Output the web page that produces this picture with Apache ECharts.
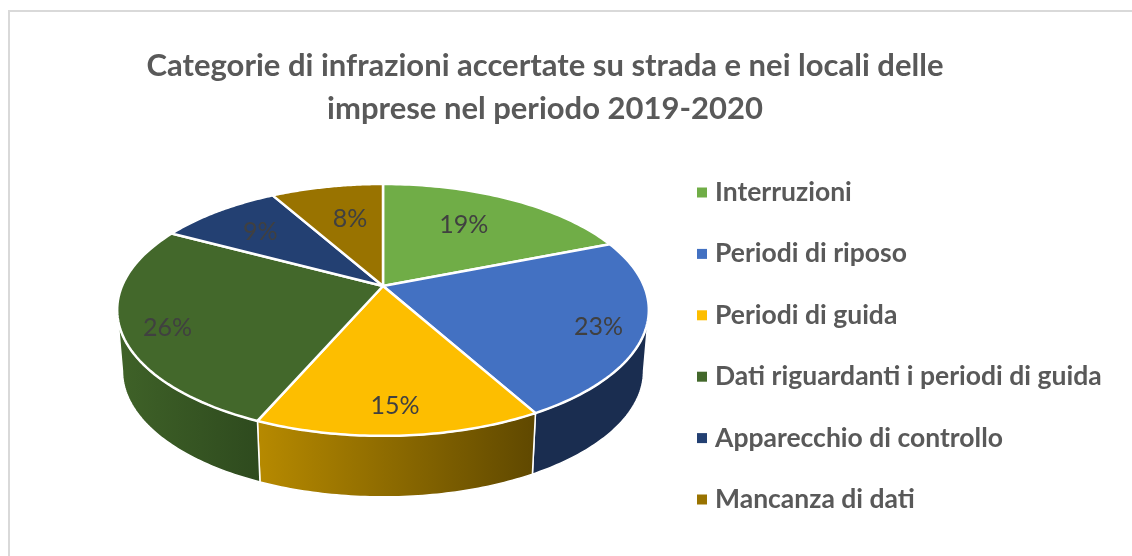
<!DOCTYPE html>
<html>
<head>
<meta charset="utf-8">
<script src="https://cdn.jsdelivr.net/npm/echarts@6/dist/echarts.min.js"></script>
<style>
html, body { margin: 0; padding: 0; background: #fff; }
#main { width: 1132px; height: 556px; }
</style>
</head>
<body>
<div id="main"></div>
<script>
const titleText = 'Categorie di infrazioni accertate su strada e nei locali delle\nimprese nel periodo 2019-2020'
const categories = ['Interruzioni', 'Periodi di riposo', 'Periodi di guida', 'Dati riguardanti i periodi di guida', 'Apparecchio di controllo', 'Mancanza di dati']
const values = [19.0, 22.9, 14.6, 26.3, 9.0, 8.2]

const colors = ['#70ad47', '#4371c2', '#fdbe00', '#43682b', '#234072', '#997300']
const wallStops = [
    ['#43682b', '#43682b'],
    ['#1a2d50', '#1a2d50'],
    ['#b78a00', '#5f4800'],
    ['#3f6228', '#2e4a1e'],
    ['#1a2d50', '#1a2d50'],
    ['#7a5c00', '#7a5c00']
]
// how far out each percent label sits, 1 = on the rim, plus a small hand nudge
const labelReach = [0.62, 0.83, 0.83, 0.84, 0.72, 0.6]
const labelNudge = [[-2, -4], [0, 5], [-1, 0], [3, 6], [0, 2], [3, -4]]

const font = 'Lato'
const total = values.reduce((a, b) => a + b, 0)

// the tilted pie is a circle seen in perspective
const pie = { cx: 383, cy: 286, b: 261, a: 121.4, k: -0.19, depth: 61, shrink: 0.98 }

// the wall only shows between the two widest points of the rim
const wallFrom = Math.acos(pie.k)
const wallTo = Math.PI * 2 - wallFrom

function project(r, angle) {
    const u = r * Math.sin(angle)
    const v = -r * Math.cos(angle)
    const d = 1 + pie.k * v
    return [pie.cx + pie.b * u / d, pie.cy + pie.a * v / d]
}

function lower(p) {
    return [pie.cx + (p[0] - pie.cx) * pie.shrink, p[1] + pie.depth]
}

function arc(from, to) {
    const pts = []
    const steps = 60
    for (let s = 0; s <= steps; s++) {
        pts.push(project(1, from + (to - from) * s / steps))
    }
    return pts
}

function renderSlice(params, api) {
    const i = params.seriesIndex
    const before = values.slice(0, i).reduce((a, b) => a + b, 0)
    const start = before / total * Math.PI * 2
    const end = (before + api.value(0)) / total * Math.PI * 2

    const rim = arc(start, end)
    const pos = project(labelReach[i], (start + end) / 2)
    const children = []

    const wStart = Math.max(start, wallFrom)
    const wEnd = Math.min(end, wallTo)
    if (wEnd > wStart) {
        const front = arc(wStart, wEnd)
        children.push({
            type: 'polygon',
            z2: 1,
            shape: { points: front.concat(front.map(lower).reverse()) },
            style: {
                fill: new echarts.graphic.LinearGradient(0, 0, 1, 0, [
                    { offset: 0, color: wallStops[i][0] },
                    { offset: 1, color: wallStops[i][1] }
                ]),
                stroke: '#fff',
                lineWidth: 1.5
            }
        })
    }
    children.push({
        type: 'polygon',
        z2: 10,
        shape: { points: [[pie.cx, pie.cy]].concat(rim) },
        style: { fill: colors[i], stroke: '#fff', lineWidth: 2.5, lineJoin: 'round' }
    })
    children.push({
        type: 'text',
        z2: 20,
        x: pos[0] + labelNudge[i][0],
        y: pos[1] + labelNudge[i][1],
        style: {
            text: Math.round(api.value(0) / total * 100) + '%',
            fill: '#404040',
            font: '25px ' + font,
            textAlign: 'center',
            textVerticalAlign: 'middle'
        }
    })
    return { type: 'group', children: children }
}

const chart = echarts.init(document.getElementById('main'))
chart.setOption({
    animation: false,
    backgroundColor: '#fff',
    title: {
        text: titleText,
        left: 540,
        top: 39,
        textAlign: 'center',
        textStyle: { fontFamily: font, fontSize: 31, fontWeight: 700, color: '#595959', lineHeight: 43 }
    },
    legend: {
        orient: 'vertical',
        left: 692,
        top: 174,
        itemWidth: 10,
        itemHeight: 10,
        itemGap: 34.4,
        icon: 'rect',
        data: categories,
        textStyle: { fontFamily: font, fontSize: 26.5, fontWeight: 700, color: '#595959', lineHeight: 27, padding: [0, 0, 0, 3] }
    },
    graphic: [{
        type: 'polyline',
        silent: true,
        z: -1,
        shape: { points: [[9, 600], [9, 11], [1140, 11]] },
        style: { fill: 'none', stroke: '#d9d9d9', lineWidth: 2 }
    }],
    series: categories.map((name, i) => ({
        type: 'custom',
        name: name,
        coordinateSystem: 'none',
        itemStyle: { color: colors[i] },
        renderItem: renderSlice,
        data: [[values[i]]]
    }))
})
</script>
</body>
</html>
